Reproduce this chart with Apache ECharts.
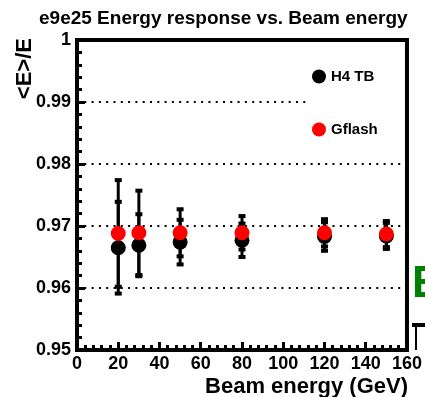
<!DOCTYPE html>
<html>
<head>
<meta charset="utf-8">
<script src="https://cdn.jsdelivr.net/npm/echarts@6/dist/echarts.min.js"></script>
<style>
  html, body { margin: 0; padding: 0; background: #fff; }
  #chart { width: 425px; height: 397px; }
</style>
</head>
<body>
<div id="chart"></div>
<script>
// Beam energies (GeV) and mean energy response <E>/E with errors
const energies = [20, 30, 50, 80, 120, 150];
const h4tb = [0.9665, 0.9669, 0.9674, 0.9677, 0.9683, 0.9684];
const h4tbErr = [0.0074, 0.0050, 0.0036, 0.0027, 0.0023, 0.0021];
const gflash = [0.9688, 0.9689, 0.9689, 0.9689, 0.9689, 0.9687];
const gflashErr = [0.0086, 0.0068, 0.0038, 0.0027, 0.0022, 0.0021];
const seriesNames = ['H4 TB', 'Gflash'];

const FONT = "'Liberation Sans', Arial, Helvetica, sans-serif";

// vertical error bar with small end caps
function errorBars(params, api) {
  const x = api.value(0), y = api.value(1), err = api.value(2);
  const hi = api.coord([x, y + err]);
  const lo = api.coord([x, y - err]);
  const capW = 7, capH = 4;
  return {
    type: 'group',
    children: [
      { type: 'line', shape: { x1: hi[0], y1: hi[1], x2: lo[0], y2: lo[1] },
        style: { stroke: '#000', lineWidth: 3 } },
      { type: 'rect', shape: { x: hi[0] - capW / 2, y: hi[1] - capH / 2, width: capW, height: capH },
        style: { fill: '#000' } },
      { type: 'rect', shape: { x: lo[0] - capW / 2, y: lo[1] - capH / 2, width: capW, height: capH },
        style: { fill: '#000' } }
    ]
  };
}

const h4Data = energies.map((e, i) => [e, h4tb[i]]);
const gfData = energies.map((e, i) => [e, gflash[i]]);
const h4ErrData = energies.map((e, i) => [e, h4tb[i], h4tbErr[i]]);
const gfErrData = energies.map((e, i) => [e, gflash[i], gflashErr[i]]);

const chart = echarts.init(document.getElementById('chart'), null, { renderer: 'canvas' });

chart.setOption({
  animation: false,
  backgroundColor: '#fff',
  title: {
    text: 'e9e25 Energy response vs. Beam energy',
    left: 34,
    top: 4,
    textStyle: { fontFamily: FONT, fontWeight: 'bold', fontSize: 19, color: '#000' }
  },
  grid: {
    left: 77, right: 13, top: 40, bottom: 47,
    show: true, borderColor: '#000', borderWidth: 4, backgroundColor: 'transparent'
  },
  legend: {
    data: seriesNames,
    orient: 'vertical',
    left: 312,
    top: 69,
    padding: 0,
    itemWidth: 14,
    itemHeight: 14,
    itemGap: 38,
    icon: 'circle',
    selectedMode: false,
    textStyle: { fontFamily: FONT, fontWeight: 'bold', fontSize: 15, color: '#000', lineHeight: 14 }
  },
  xAxis: {
    type: 'value',
    min: 0, max: 160, interval: 20,
    axisLine: { show: true, lineStyle: { color: '#000', width: 4 } },
    axisTick: { show: true, inside: true, length: 8, lineStyle: { color: '#000', width: 3 } },
    minorTick: { show: true, splitNumber: 5, length: 5, lineStyle: { color: '#000', width: 3 } },
    splitLine: { show: false },
    axisLabel: {
      margin: 5, showMinLabel: true, showMaxLabel: true,
      fontFamily: FONT, fontWeight: 'bold', fontSize: 18, color: '#000'
    }
  },
  yAxis: {
    type: 'value',
    min: 0.95, max: 1, interval: 0.01,
    axisLine: { show: true, lineStyle: { color: '#000', width: 4 } },
    axisTick: { show: true, inside: true, length: 8, lineStyle: { color: '#000', width: 3 } },
    minorTick: { show: true, splitNumber: 5, length: 5, lineStyle: { color: '#000', width: 3 } },
    splitLine: { show: true, lineStyle: { color: '#000', width: 2, type: [2, 5.3] } },
    axisLabel: {
      margin: 6, showMinLabel: true, showMaxLabel: true,
      fontFamily: FONT, fontWeight: 'bold', fontSize: 18, color: '#000',
      formatter: v => {
        const r = Math.round(v * 100) / 100;
        return r === 1 ? '1' : r.toFixed(2);
      }
    }
  },
  graphic: [
    // white legend box hiding the grid line behind it
    { type: 'rect', z: 1, shape: { x: 308, y: 60, width: 93, height: 88 }, style: { fill: '#fff' } },
    { type: 'text', x: 408, y: 387, z: 5,
      style: { text: 'Beam energy (GeV)', align: 'right', verticalAlign: 'middle',
               font: "bold 22px 'Liberation Sans', Arial, sans-serif", fill: '#000' } },
    { type: 'text', x: 25, y: 38, rotation: Math.PI / 2, z: 5,
      style: { text: '<E>/E', align: 'right', verticalAlign: 'middle',
               font: "bold 22px 'Liberation Sans', Arial, sans-serif", fill: '#000' } },
    { type: 'text', x: 412, y: 285, z: 5,
      style: { text: 'E', align: 'left', verticalAlign: 'middle',
               font: "bold 44px 'Liberation Sans', Arial, sans-serif", fill: '#008000' } },
    { type: 'rect', z: 5, shape: { x: 412, y: 323, width: 13, height: 4 }, style: { fill: '#000' } },
    { type: 'rect', z: 5, shape: { x: 415, y: 325, width: 2, height: 25 }, style: { fill: '#000' } }
  ],
  series: [
    { name: 'H4 TB err', type: 'custom', renderItem: errorBars, data: h4ErrData,
      encode: { x: 0, y: 1 }, z: 3, silent: true },
    { name: 'Gflash err', type: 'custom', renderItem: errorBars, data: gfErrData,
      encode: { x: 0, y: 1 }, z: 3, silent: true },
    { name: seriesNames[0], type: 'scatter', data: h4Data, symbol: 'circle', symbolSize: 15,
      itemStyle: { color: '#000', opacity: 1 }, z: 4 },
    { name: seriesNames[1], type: 'scatter', data: gfData, symbol: 'circle', symbolSize: 15,
      itemStyle: { color: '#ff0000', opacity: 1 }, z: 5 }
  ]
});
</script>
</body>
</html>
